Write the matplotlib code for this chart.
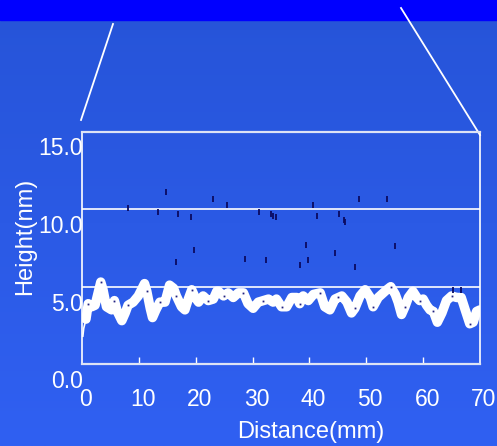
import matplotlib.pyplot as plt
import numpy as np
from matplotlib.transforms import ScaledTranslation

# surface profile (white trace)
dist = [0.7, 1.1, 1.7, 2.3, 2.9, 3.3, 3.7, 4.3, 5.2, 5.7, 6.2, 7.0, 7.6, 8.1, 9.0, 9.9,
        11.0, 11.4, 12.0, 12.4, 13.0, 13.7, 14.6, 15.4, 16.1, 16.6, 17.5, 18.1, 18.7,
        19.3, 19.9, 20.5, 21.3, 22.2, 23.1, 23.7, 24.0, 24.9, 25.7, 26.6, 27.5, 28.4,
        29.2, 30.1, 31.0, 31.9, 32.8, 33.6, 34.2, 35.1, 36.0, 36.9, 37.8, 38.3, 38.9,
        39.8, 40.7, 41.9, 42.7, 43.6, 44.5, 45.1, 45.7, 46.6, 47.4, 48.0, 48.9, 49.8,
        50.7, 51.2, 52.1, 53.0, 53.6, 54.3, 55.1, 55.6, 56.2, 56.8, 57.4, 58.2, 58.9,
        59.4, 60.0, 60.6, 61.2, 61.8, 62.5, 63.3, 64.1, 65.0, 65.9, 66.7, 67.4, 68.2,
        68.8, 69.4, 70.0]
height = [4.0, 5.0, 4.8, 4.9, 5.8, 6.4, 5.9, 4.8, 4.6, 5.2, 4.5, 3.9, 4.4, 4.9, 5.1, 5.5,
          6.3, 5.8, 4.7, 4.1, 4.6, 5.1, 5.1, 6.2, 6.0, 5.5, 4.8, 4.6, 5.3,
          5.9, 5.4, 5.1, 5.5, 5.2, 5.3, 5.8, 5.8, 5.5, 5.7, 5.4, 5.7, 5.7,
          5.0, 4.7, 5.1, 5.2, 5.3, 5.1, 5.3, 4.8, 4.8, 5.4, 5.4, 5.0, 5.5,
          5.2, 5.6, 5.7, 4.8, 4.6, 5.3, 5.4, 5.5, 5.1, 4.4, 4.7, 5.5, 5.9,
          5.4, 4.8, 5.4, 5.7, 5.9, 6.1, 5.6, 5.1, 4.3, 4.8, 5.4, 5.8, 5.4,
          5.2, 5.3, 4.9, 4.6, 4.5, 3.8, 4.4, 5.2, 5.5, 5.4, 5.4, 4.6, 3.7,
          3.8, 4.5, 4.6]

# scattered points (dark ticks)
pt_x = [8.1, 14.7, 13.4, 16.9, 19.2, 23.1, 25.5, 31.2, 33.3, 33.6, 34.1, 19.7, 16.6,
        28.7, 32.4, 40.7, 41.4, 45.2, 46.1, 46.3, 48.7, 53.7, 39.4, 44.5, 39.8, 38.4,
        48.0, 55.1, 65.3, 66.7]
pt_y = [11.2, 12.2, 10.9, 10.8, 10.6, 11.8, 11.4, 10.9, 10.8, 10.7, 10.6, 8.5, 7.7,
        7.9, 7.8, 11.4, 10.7, 10.8, 10.4, 10.3, 11.8, 11.8, 8.8, 8.3, 7.8, 7.5,
        7.4, 8.7, 5.9, 5.9]

x_ticks = [0, 10, 20, 30, 40, 50, 60, 70]
y_ticks = [0.0, 5.0, 10.0, 15.0]
grid_y = [6.1, 11.1]

W, H = 497, 446
fig = plt.figure(figsize=(W / 100, H / 100), dpi=100)

# background gradient + top band
bg = fig.add_axes([0, 0, 1, 1])
grad = np.linspace(0, 1, 256)[:, None]
top = np.array([38, 84, 216]) / 255
bot = np.array([48, 96, 242]) / 255
img = top + (bot - top) * grad[..., None]
bg.imshow(img, aspect='auto', extent=[0, 1, 0, 1], origin='upper')
bg.axhspan(1 - 20 / H, 1, color='#0000ff')
bg.plot([113 / W, 81 / W], [1 - 24 / H, 1 - 120 / H], color='white', lw=1.3)
bg.plot([401 / W, 480 / W], [1 - 8 / H, 1 - 135 / H], color='white', lw=1.3)
bg.set_xlim(0, 1)
bg.set_ylim(0, 1)
bg.axis('off')

ax = fig.add_axes([82 / W, 1 - 364 / H, 398 / W, 232 / H])
ax.patch.set_alpha(0)
ax.set_xlim(0, 70)
ax.set_ylim(1.1, 16.1)

for g in grid_y:
    ax.axhline(g, color='white', lw=1.2, zorder=1)

ax.plot([0.15, 0.3, 0.7], [2.9, 3.4, 4.0], color='white', lw=1.2, zorder=2)
ax.plot(dist, height, color='white', lw=6.8, solid_capstyle='round',
        solid_joinstyle='round', zorder=3)
ax.plot(dist[1::4], height[1::4], ls='none', marker='s', ms=1.3, mew=0,
        color='#202080', zorder=4)
ax.plot(pt_x, pt_y, ls='none', marker='|', ms=5, mew=1.3, color='#0a0a60', zorder=4)

for s in ['left', 'right']:
    ax.spines[s].set_color('white')
    ax.spines[s].set_linewidth(1.2)
for s in ['top', 'bottom']:
    ax.spines[s].set_color('#dde3f5')
    ax.spines[s].set_linewidth(1.6)

ax.set_xticks(x_ticks[1:-1])
ax.tick_params(axis='x', direction='in', length=5, width=1, color='white',
               labelbottom=False)
ax.set_yticks([])

font = 'Liberation Sans'
fs = 16.5
xlab_off = ScaledTranslation(4 / 100, 0, fig.dpi_scale_trans)
for t in x_ticks:
    ax.text(t, -0.155, str(t), transform=ax.get_xaxis_transform() + xlab_off,
            ha='center', va='center', color='white', fontsize=fs, family=font,
            clip_on=False)
for i, v in enumerate(y_ticks):
    py = 381.7 - 77.6 * i
    fig.text(83 / W, 1 - py / H, f'{v:.1f}', ha='right', va='center', color='white',
             fontsize=fs, family=font)

fig.text(25 / W, 1 - 236 / H, 'Height(nm)', rotation=90, ha='center', va='center',
         color='white', fontsize=17, family=font)
fig.text(311 / W, 1 - 432 / H, 'Distance(mm)', ha='center', va='center',
         color='white', fontsize=17, family=font)

fig.savefig('out.png', dpi=100)
